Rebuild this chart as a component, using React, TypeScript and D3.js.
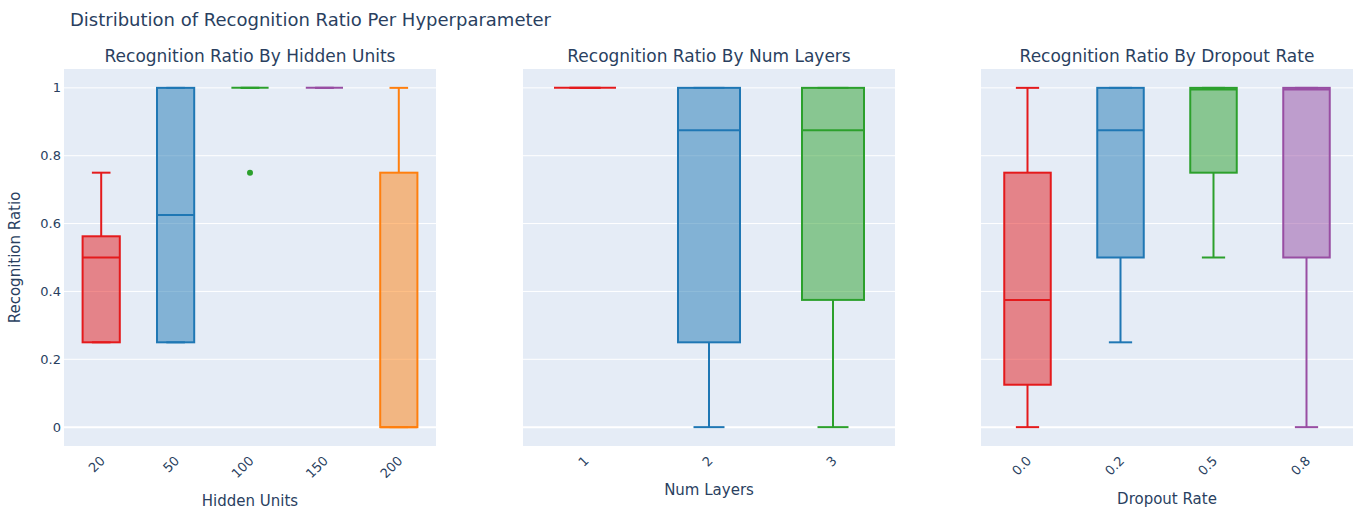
import React from "react";
import * as d3 from "d3";

// Box statistics per hyperparameter value: [lowerFence, q1, median, q3, upperFence]
const hiddenUnits = ["20", "50", "100", "150", "200"];
const hiddenStats = [
  [0.25, 0.25, 0.5, 0.5625, 0.75],
  [0.25, 0.25, 0.625, 1, 1],
  [1, 1, 1, 1, 1],
  [1, 1, 1, 1, 1],
  [0, 0, 0, 0.75, 1],
];
const hiddenOutliers = [[], [], [0.75], [], []];
const hiddenColors = ["#e41a1c", "#1f77b4", "#2ca02c", "#984ea3", "#ff7f0e"];

const numLayers = ["1", "2", "3"];
const layerStats = [
  [1, 1, 1, 1, 1],
  [0, 0.25, 0.875, 1, 1],
  [0, 0.375, 0.875, 1, 1],
];
const layerOutliers = [[], [], []];
const layerColors = ["#e41a1c", "#1f77b4", "#2ca02c"];

const dropoutRates = ["0.0", "0.2", "0.5", "0.8"];
const dropoutStats = [
  [0, 0.125, 0.375, 0.75, 1],
  [0.25, 0.5, 0.875, 1, 1],
  [0.5, 0.75, 0.995, 1, 1],
  [0, 0.5, 0.995, 1, 1],
];
const dropoutOutliers = [[], [], [], []];
const dropoutColors = ["#e41a1c", "#1f77b4", "#2ca02c", "#984ea3"];

const yTicks = [0, 0.2, 0.4, 0.6, 0.8, 1];

const W = 1359;
const H = 511;
const TOP = 69;
const BOTTOM = 446;
const FONT = '"DejaVu Sans", Verdana, sans-serif';
const TEXT = "#2a3f5f";
const PLOT_BG = "#e5ecf6";

const y = d3.scaleLinear().domain([-0.0556, 1.0556]).range([BOTTOM, TOP]);

type PanelProps = {
  x0: number;
  x1: number;
  title: string;
  axisTitle: string;
  axisTitleY: number;
  cats: string[];
  stats: number[][];
  outliers: number[][];
  colors: string[];
  showY: boolean;
};

function Panel({ x0, x1, title, axisTitle, axisTitleY, cats, stats, outliers, colors, showY }: PanelProps) {
  const x = d3.scaleBand().domain(cats).range([x0, x1]);
  const bw = x.bandwidth() * 0.5;
  const cw = bw * 0.5;
  const cx = (x0 + x1) / 2;
  return (
    <g>
      <rect x={x0} y={TOP} width={x1 - x0} height={BOTTOM - TOP} fill={PLOT_BG} />
      {yTicks.map((t) => (
        <line key={t} x1={x0} x2={x1} y1={y(t)} y2={y(t)} stroke="#fff" strokeWidth={t === 0 ? 2 : 1} />
      ))}
      {showY &&
        yTicks.map((t) => (
          <text key={t} x={x0 - 3} y={y(t)} dy="0.35em" textAnchor="end" fontSize={13} fill={TEXT}>
            {d3.format("~g")(t)}
          </text>
        ))}
      {cats.map((c, i) => {
        const [lo, q1, med, q3, hi] = stats[i];
        const m = (x(c) as number) + x.bandwidth() / 2;
        const col = colors[i];
        return (
          <g key={c}>
            <line x1={m} x2={m} y1={y(hi)} y2={y(q3)} stroke={col} strokeWidth={2} />
            <line x1={m} x2={m} y1={y(q1)} y2={y(lo)} stroke={col} strokeWidth={2} />
            <line x1={m - cw / 2} x2={m + cw / 2} y1={y(hi)} y2={y(hi)} stroke={col} strokeWidth={2} />
            <line x1={m - cw / 2} x2={m + cw / 2} y1={y(lo)} y2={y(lo)} stroke={col} strokeWidth={2} />
            <rect
              x={m - bw / 2}
              y={y(q3)}
              width={bw}
              height={Math.max(0, y(q1) - y(q3))}
              fill={col}
              fillOpacity={0.5}
              stroke={col}
              strokeWidth={2}
            />
            <line x1={m - bw / 2} x2={m + bw / 2} y1={y(med)} y2={y(med)} stroke={col} strokeWidth={2} />
            {outliers[i].map((o, k) => (
              <circle key={k} cx={m} cy={y(o)} r={3} fill={col} />
            ))}
            <text
              transform={`translate(${m - 2},${BOTTOM + 9}) rotate(-45)`}
              textAnchor="end"
              dy="0.71em"
              fontSize={13}
              fill={TEXT}
            >
              {c}
            </text>
          </g>
        );
      })}
      <text x={cx} y={62} textAnchor="middle" fontSize={17} fill={TEXT}>
        {title}
      </text>
      <text x={cx} y={axisTitleY} textAnchor="middle" fontSize={15} fill={TEXT}>
        {axisTitle}
      </text>
    </g>
  );
}

export default function App() {
  return (
    <div style={{ position: "absolute", left: 0, top: 0 }}>
      <svg width={W} height={H} style={{ display: "block", fontFamily: FONT }}>
        <rect width={W} height={H} fill="#fff" />
        <text x={70} y={26} fontSize={18} fill={TEXT}>
          Distribution of Recognition Ratio Per Hyperparameter
        </text>
        <text transform={`translate(20,${(TOP + BOTTOM) / 2}) rotate(-90)`} textAnchor="middle" fontSize={15} fill={TEXT}>
          Recognition Ratio
        </text>
        <Panel
          x0={64}
          x1={436}
          title="Recognition Ratio By Hidden Units"
          axisTitle="Hidden Units"
          axisTitleY={506}
          cats={hiddenUnits}
          stats={hiddenStats}
          outliers={hiddenOutliers}
          colors={hiddenColors}
          showY={true}
        />
        <Panel
          x0={523}
          x1={895}
          title="Recognition Ratio By Num Layers"
          axisTitle="Num Layers"
          axisTitleY={495}
          cats={numLayers}
          stats={layerStats}
          outliers={layerOutliers}
          colors={layerColors}
          showY={false}
        />
        <Panel
          x0={981}
          x1={1353}
          title="Recognition Ratio By Dropout Rate"
          axisTitle="Dropout Rate"
          axisTitleY={504}
          cats={dropoutRates}
          stats={dropoutStats}
          outliers={dropoutOutliers}
          colors={dropoutColors}
          showY={false}
        />
      </svg>
    </div>
  );
}
